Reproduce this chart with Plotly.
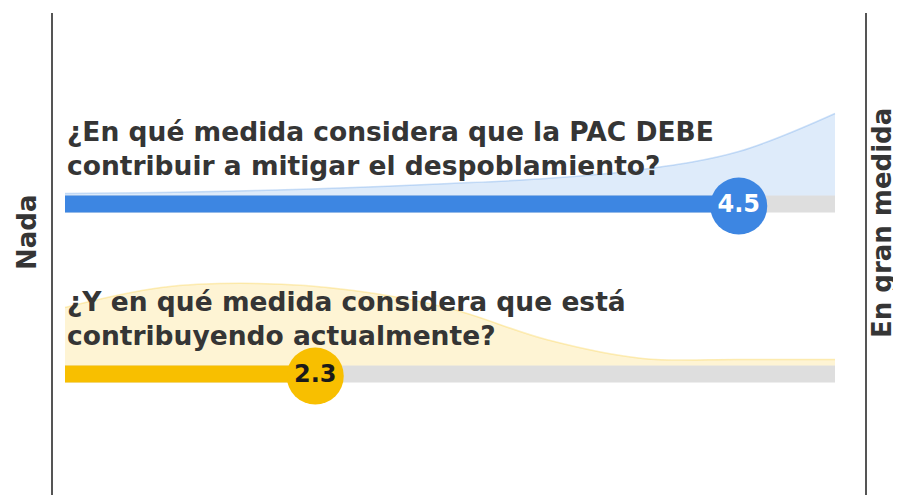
import plotly.graph_objects as go

# ---- data ----
questions = [
    "¿En qué medida considera que la PAC DEBE<br>contribuir a mitigar el despoblamiento?",
    "¿Y en qué medida considera que está<br>contribuyendo actualmente?",
]
means = [4.5, 2.3]
mean_labels = ["4.5", "2.3"]
scale_min, scale_max = 1, 5
density_x = [1.0, 1.5, 2.0, 2.5, 3.0, 3.5, 4.0, 4.5, 5.0]
density_blue = [2, 3, 5, 8, 12, 17, 26, 44, 82]
density_yellow = [58, 78, 82, 75, 57, 26, 7, 6, 6]
left_label = "Nada"
right_label = "En gran medida"

# ---- styles / positions (screen px; page body has an 8px margin) ----
OFF = 8
SW, SH = 901, 495
W, H = SW - OFF, SH - OFF
x_left_px, x_right_px = 65, 835
ppu = (x_right_px - x_left_px) / (scale_max - scale_min)
xr = [scale_min + (OFF - x_left_px) / ppu, scale_min + (SW - x_left_px) / ppu]

def px(sx):
    return (sx - OFF) / W

def py(sy):
    return 1 - (sy - OFF) / H

FONT = "DejaVu Sans"
TEXT_COLOR = "#353535"
bar_y = [204, 374]
bar_h = 17
bar_colors = ["#3d86e2", "#f8bf00"]
fill_colors = ["rgba(61,134,226,0.17)", "rgba(248,191,0,0.17)"]
edge_colors = ["rgba(61,134,226,0.25)", "rgba(248,191,0,0.25)"]
circle_text_colors = ["white", "#1a1a1a"]
densities = [density_blue, density_yellow]
text_y = [148, 318]

fig = go.Figure()

for i in range(2):
    base = bar_y[i] - bar_h / 2
    fig.add_trace(go.Scatter(x=density_x, y=[base] * len(density_x), mode="lines",
                             line=dict(width=0), hoverinfo="skip", showlegend=False))
    fig.add_trace(go.Scatter(x=density_x, y=[base - d for d in densities[i]], mode="lines",
                             line=dict(width=1.5, color=edge_colors[i], shape="spline"),
                             fill="tonexty", fillcolor=fill_colors[i],
                             hoverinfo="skip", showlegend=False))

for i in range(2):
    fig.add_trace(go.Bar(x=[scale_max - scale_min], base=[scale_min], y=[bar_y[i]],
                         orientation="h", width=bar_h, marker=dict(color="#dedede", line=dict(width=0)),
                         hoverinfo="skip", showlegend=False))
    fig.add_trace(go.Bar(x=[means[i] - scale_min], base=[scale_min], y=[bar_y[i]],
                         orientation="h", width=bar_h, marker=dict(color=bar_colors[i], line=dict(width=0)),
                         hoverinfo="skip", showlegend=False))

for i in range(2):
    fig.add_trace(go.Scatter(x=[means[i]], y=[bar_y[i] + 2], mode="markers+text",
                             marker=dict(size=57, color=bar_colors[i], line=dict(width=0)),
                             text=[mean_labels[i]], textposition="middle center",
                             textfont=dict(size=24, color=circle_text_colors[i], family=FONT, weight=700),
                             hoverinfo="skip", showlegend=False))
    fig.add_annotation(x=scale_min, y=text_y[i], xref="x", yref="y", text=questions[i],
                       showarrow=False, xanchor="left", yanchor="middle", align="left",
                       font=dict(size=26.5, color=TEXT_COLOR, family=FONT, weight=700))

fig.update_layout(
    width=W, height=H, margin=dict(l=0, r=0, t=0, b=0),
    paper_bgcolor="white", plot_bgcolor="white",
    barmode="overlay",
    xaxis=dict(range=xr, visible=False, fixedrange=True),
    yaxis=dict(range=[SH, OFF], visible=False, fixedrange=True),
    shapes=[
        dict(type="line", xref="paper", yref="paper", x0=px(52), x1=px(52), y0=0, y1=py(13),
             line=dict(color="#555555", width=2)),
        dict(type="line", xref="paper", yref="paper", x0=px(866), x1=px(866), y0=0, y1=py(13),
             line=dict(color="#555555", width=2)),
    ],
    annotations=list(fig.layout.annotations) + [
        dict(x=px(27), y=py(233), xref="paper", yref="paper", text=left_label, textangle=-90,
             showarrow=False, xanchor="center", yanchor="middle",
             font=dict(size=26, color=TEXT_COLOR, family=FONT, weight=700)),
        dict(x=px(882), y=py(223), xref="paper", yref="paper", text=right_label, textangle=-90,
             showarrow=False, xanchor="center", yanchor="middle",
             font=dict(size=26, color=TEXT_COLOR, family=FONT, weight=700)),
    ],
)

fig.write_html("out.html")
